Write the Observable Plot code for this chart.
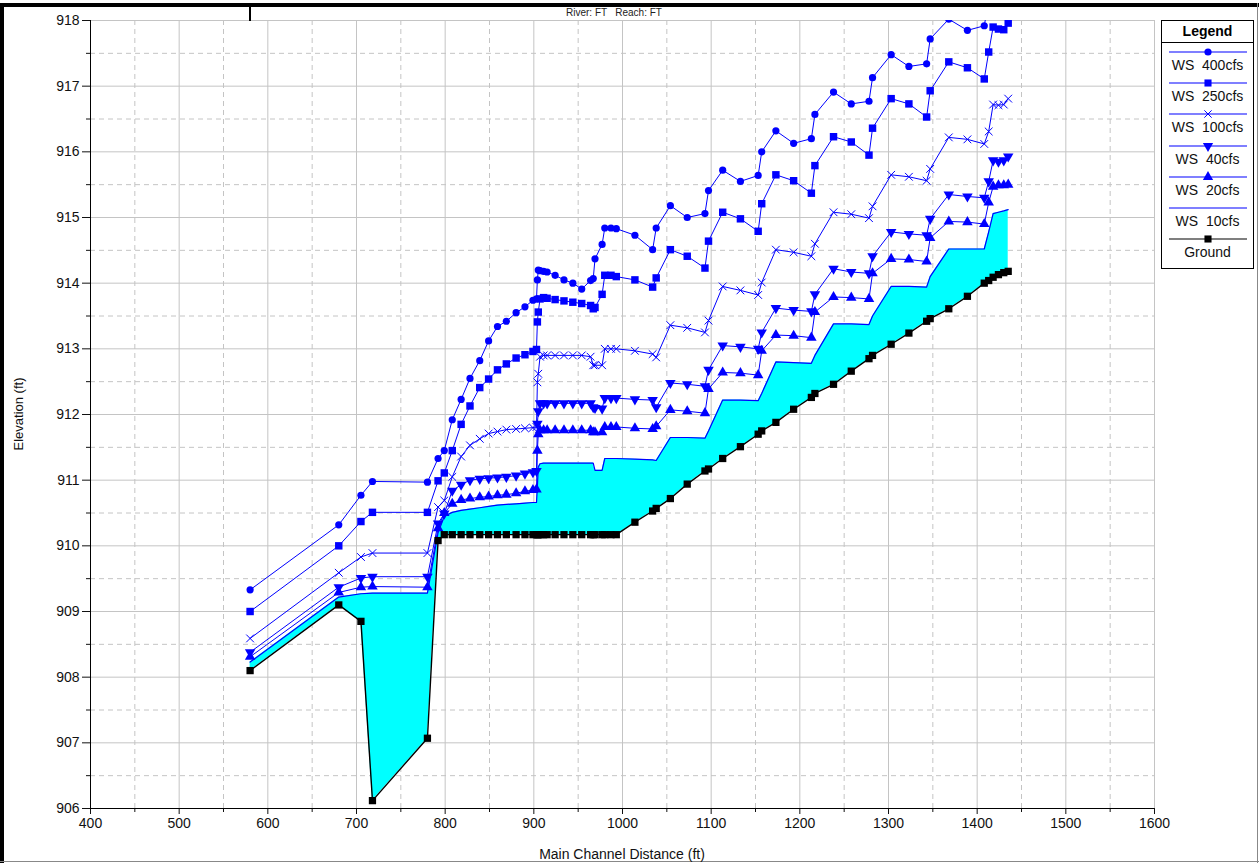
<!DOCTYPE html>
<html>
<head>
<meta charset="utf-8">
<script src="https://cdn.jsdelivr.net/npm/d3@7"></script>
<script src="https://cdn.jsdelivr.net/npm/@observablehq/plot@0.6"></script>
<style>
  html, body { margin: 0; padding: 0; background: #fff; }
  body { font-family: Arial, "Liberation Sans", sans-serif; }
  #wrap { position: relative; width: 1259px; height: 863px; overflow: hidden; background: #fff; }
  #chart { position: absolute; left: 0; top: 0; }
  .abs { position: absolute; }
  #title { left: 566px; top: 7px; font-size: 10px; line-height: 12px; color: #222; white-space: pre; }
  #topbar { left: 0; top: 3px; width: 1259px; height: 4px; background: #000; }
  #leftbar { left: 0; top: 3px; width: 4px; height: 860px; background: #000; }
  #rightbar { left: 1257px; top: 3px; width: 1px; height: 860px; background: #888; }
  #bottombar { left: 0; top: 861px; width: 1259px; height: 1px; background: #888; }
  #tick580 { left: 249px; top: 7px; width: 1.5px; height: 14px; background: #000; }
  #xlabel { left: 90px; width: 1064px; top: 846px; text-align: center; font-size: 14px; color: #111; }
  #ylabel { left: 18px; top: 414px; font-size: 13px; color: #111; transform: translate(-50%, -50%) rotate(-90deg); white-space: nowrap; }
  #legend { left: 1161px; top: 20px; width: 91px; height: 247px; border: 1.5px solid #000; background: #fff; }
  #legend .hdr { position: absolute; left: 0; top: 0; width: 91px; height: 21px; border-bottom: 1px solid #000; text-align: center; font-weight: bold; font-size: 14px; line-height: 21px; }
  #legend .lt { position: absolute; left: 0; width: 91px; text-align: center; font-size: 14px; white-space: pre; line-height: 16px; color: #111; }
  #legend svg { position: absolute; left: 7px; }
</style>
</head>
<body>
<div id="wrap">
  <div id="chart"></div>
  <div id="topbar" class="abs"></div>
  <div id="title" class="abs">River: FT   Reach: FT</div>
  <div id="leftbar" class="abs"></div>
  <div id="rightbar" class="abs"></div>
  <div id="bottombar" class="abs"></div>
  <div id="tick580" class="abs"></div>
  <div id="xlabel" class="abs">Main Channel Distance (ft)</div>
  <div id="ylabel" class="abs">Elevation (ft)</div>
  <div id="legend" class="abs"><div class="hdr">Legend</div></div>
</div>
<script>
// ---- Data ----
const stations = [
  580, 680, 705, 718, 780,
  792, 799, 808, 818, 828, 839, 849, 859, 869, 880,
  890, 899, 903, 904, 905, 907, 911, 915, 924, 934,
  944, 954, 964, 967, 969, 977, 980, 987, 993, 1014,
  1034, 1038, 1054, 1073, 1093, 1097, 1113, 1133, 1153, 1157,
  1173, 1193, 1213, 1217, 1238, 1258, 1278, 1282, 1303, 1323,
  1343, 1347, 1368, 1389, 1408, 1413, 1418, 1424, 1430, 1435
];
const ground = [
  908.10, 909.10, 908.85, 906.12, 907.07,
  910.08, 910.17, 910.17, 910.17, 910.17, 910.17, 910.17, 910.17, 910.17, 910.17,
  910.17, 910.17, 910.17, 910.17, 910.17, 910.17, 910.17, 910.17, 910.17, 910.17,
  910.17, 910.17, 910.17, 910.17, 910.17, 910.17, 910.17, 910.17, 910.17, 910.36,
  910.53, 910.57, 910.72, 910.94, 911.14, 911.17, 911.33, 911.51, 911.70, 911.75,
  911.88, 912.08, 912.26, 912.32, 912.46, 912.66, 912.85, 912.90, 913.07, 913.24,
  913.42, 913.46, 913.61, 913.80, 914.00, 914.04, 914.09, 914.13, 914.16, 914.18
];
const ws10 = [
  908.23, 909.22, 909.27, 909.28, 909.28,
  910.20, 910.45, 910.51, 910.54, 910.56, 910.58, 910.60, 910.62, 910.63, 910.64,
  910.65, 910.66, 910.66, 910.90, 911.20, 911.25, 911.26, 911.26, 911.26, 911.26,
  911.26, 911.26, 911.26, 911.26, 911.15, 911.15, 911.33, 911.33, 911.33, 911.32,
  911.31, 911.30, 911.65, 911.65, 911.64, 911.75, 912.22, 912.22, 912.21, 912.32,
  912.80, 912.79, 912.78, 912.90, 913.38, 913.38, 913.37, 913.50, 913.95, 913.95,
  913.94, 914.10, 914.52, 914.52, 914.52, 914.78, 915.06, 915.08, 915.10, 915.12
];
const ws20 = [
  908.31, 909.29, 909.37, 909.38, 909.37,
  910.27, 910.50, 910.64, 910.70, 910.72, 910.74, 910.75, 910.77, 910.78, 910.80,
  910.83, 910.85, 910.86, 911.45, 911.70, 911.76, 911.76, 911.76, 911.76, 911.76,
  911.76, 911.76, 911.76, 911.73, 911.73, 911.73, 911.81, 911.81, 911.81, 911.79,
  911.78, 911.82, 912.07, 912.05, 912.02, 912.39, 912.64, 912.63, 912.60, 912.97,
  913.21, 913.20, 913.17, 913.56, 913.79, 913.78, 913.76, 914.15, 914.37, 914.36,
  914.33, 914.69, 914.94, 914.93, 914.90, 915.23, 915.47, 915.49, 915.49, 915.50
];
const ws40 = [
  908.38, 909.37, 909.51, 909.53, 909.53,
  910.34, 910.49, 910.84, 910.93, 911.00, 911.02, 911.03, 911.04, 911.05, 911.07,
  911.10, 911.12, 911.14, 911.86, 912.05, 912.17, 912.17, 912.17, 912.17, 912.17,
  912.17, 912.17, 912.17, 912.11, 912.10, 912.09, 912.25, 912.25, 912.25, 912.23,
  912.22, 912.11, 912.48, 912.46, 912.43, 912.68, 913.05, 913.03, 913.00, 913.25,
  913.62, 913.59, 913.57, 913.83, 914.22, 914.17, 914.15, 914.41, 914.78, 914.75,
  914.73, 914.98, 915.35, 915.32, 915.30, 915.55, 915.87, 915.85, 915.87, 915.93
];
const ws100 = [
  908.59, 909.59, 909.83, 909.89, 909.89,
  910.59, 910.69, 911.05, 911.36, 911.53, 911.63, 911.71, 911.74, 911.77, 911.78,
  911.79, 911.80, 911.81, 912.49, 912.62, 912.88, 912.90, 912.90, 912.90, 912.90,
  912.90, 912.90, 912.88, 912.75, 912.75, 912.75, 913.00, 913.00, 913.00, 912.97,
  912.92, 912.87, 913.36, 913.32, 913.25, 913.43, 913.95, 913.89, 913.82, 914.01,
  914.51, 914.47, 914.41, 914.60, 915.08, 915.05, 914.99, 915.17, 915.65, 915.62,
  915.56, 915.74, 916.22, 916.19, 916.12, 916.31, 916.72, 916.71, 916.72, 916.81
];
const ws250 = [
  909.00, 910.00, 910.37, 910.51, 910.51,
  910.99, 911.11, 911.45, 911.85, 912.13, 912.41, 912.54, 912.68, 912.77, 912.86,
  912.91, 912.96, 912.99, 913.41, 913.56, 913.76, 913.78, 913.77, 913.75, 913.73,
  913.71, 913.69, 913.66, 913.61, 913.63, 913.83, 914.12, 914.12, 914.10, 914.05,
  913.94, 914.08, 914.51, 914.41, 914.23, 914.64, 915.08, 914.98, 914.79, 915.21,
  915.65, 915.56, 915.37, 915.79, 916.23, 916.15, 915.95, 916.36, 916.81, 916.73,
  916.53, 916.93, 917.37, 917.28, 917.11, 917.52, 917.90, 917.87, 917.86, 917.96
];
const ws400 = [
  909.33, 910.32, 910.77, 910.98, 910.97,
  911.33, 911.45, 911.92, 912.23, 912.55, 912.82, 913.12, 913.34, 913.42, 913.55,
  913.64, 913.74, 913.76, 914.05, 914.20, 914.19, 914.18, 914.17, 914.12, 914.05,
  914.00, 913.91, 914.04, 914.07, 914.37, 914.59, 914.84, 914.84, 914.83, 914.73,
  914.51, 914.84, 915.18, 915.00, 915.06, 915.41, 915.72, 915.55, 915.64, 916.00,
  916.32, 916.13, 916.20, 916.57, 916.91, 916.73, 916.77, 917.13, 917.48, 917.30,
  917.34, 917.72, 918.02, 917.85, 917.92, 918.30, 918.60, 918.60, 918.60, 918.70
];
const xTicks = [400, 500, 600, 700, 800, 900, 1000, 1100, 1200, 1300, 1400, 1500, 1600];
const xMinor = [450, 550, 650, 750, 850, 950, 1050, 1150, 1250, 1350, 1450, 1550];
const yTicks = [906, 907, 908, 909, 910, 911, 912, 913, 914, 915, 916, 917, 918];
const yMinor = [906.5, 907.5, 908.5, 909.5, 910.5, 911.5, 912.5, 913.5, 914.5, 915.5, 916.5, 917.5];
const legendLabels = ["WS  400cfs", "WS  250cfs", "WS  100cfs", "WS  40cfs", "WS  20cfs", "WS  10cfs", "Ground"];

// ---- Styling ----
const BLUE = "#0000ff";
const CYAN = "#00ffff";
const GRID = "#c4c4c4";
const triDown = {
  draw(ctx, size) {
    const s3 = Math.sqrt(3);
    const y = -Math.sqrt(size / (s3 * 3));
    ctx.moveTo(0, -y * 2);
    ctx.lineTo(-s3 * y, y);
    ctx.lineTo(s3 * y, y);
    ctx.closePath();
  }
};

const rows = stations.map((x, i) => ({
  x, g: ground[i], w10: ws10[i], w20: ws20[i], w40: ws40[i], w100: ws100[i], w250: ws250[i], w400: ws400[i]
}));

const series = [
  {key: "w400", symbol: "circle", r: 3.6, fill: BLUE},
  {key: "w250", symbol: "square", r: 4.2, fill: BLUE},
  {key: "w100", symbol: "times", r: 3.6, fill: "none", stroke: BLUE},
  {key: "w40", symbol: triDown, r: 3.9, fill: BLUE},
  {key: "w20", symbol: "triangle", r: 3.9, fill: BLUE}
];

const marks = [
  Plot.ruleX(xMinor, {stroke: GRID, strokeDasharray: "5,4"}),
  Plot.ruleY(yMinor, {stroke: GRID, strokeDasharray: "5,4"}),
  Plot.ruleX(xTicks, {stroke: GRID}),
  Plot.ruleY(yTicks, {stroke: GRID}),
  Plot.areaY(rows, {x: "x", y1: "g", y2: "w10", fill: CYAN, clip: true}),
  Plot.line(rows, {x: "x", y: "w10", stroke: BLUE, strokeWidth: 1.2, clip: true})
];
for (const s of series) {
  marks.push(Plot.line(rows, {x: "x", y: s.key, stroke: BLUE, strokeWidth: 1, clip: true}));
  marks.push(Plot.dot(rows, {x: "x", y: s.key, symbol: s.symbol, r: s.r, fill: s.fill, stroke: s.stroke || "none", strokeWidth: 1, clip: true}));
}
marks.push(
  Plot.line(rows, {x: "x", y: "g", stroke: "#000", strokeWidth: 1.4, clip: true}),
  Plot.dot(rows, {x: "x", y: "g", symbol: "square", r: 4.1, fill: "#000", clip: true}),
  Plot.axisX({ticks: xMinor, tickSize: 4, tickFormat: () => "", label: null}),
  Plot.axisY({ticks: yMinor, tickSize: 4, tickFormat: () => "", label: null}),
  Plot.axisX({ticks: xTicks, tickSize: 6, tickPadding: 4, tickFormat: d => String(d), label: null, fontSize: 14}),
  Plot.axisY({ticks: yTicks, tickSize: 8, tickPadding: 3, tickFormat: d => String(d), label: null, fontSize: 14}),
  Plot.ruleX([400], {stroke: "#000"}),
  Plot.ruleY([906], {stroke: "#000"})
);

const chart = Plot.plot({
  width: 1259,
  height: 863,
  marginLeft: 90,
  marginRight: 105,
  marginTop: 20,
  marginBottom: 55,
  style: {fontFamily: "Arial, 'Liberation Sans', sans-serif", fontSize: "14px", color: "#111", background: "transparent"},
  x: {domain: [400, 1600]},
  y: {domain: [906, 918]},
  marks
});
document.getElementById("chart").appendChild(chart);

// ---- Legend ----
const legend = document.getElementById("legend");
const legendSymbols = [
  {sym: d3.symbolCircle, r: 3.6, fill: BLUE, stroke: BLUE},
  {sym: d3.symbolSquare, r: 4.0, fill: BLUE, stroke: BLUE},
  {sym: d3.symbolTimes, r: 3.4, fill: "none", stroke: BLUE},
  {sym: triDown, r: 3.8, fill: BLUE, stroke: BLUE},
  {sym: d3.symbolTriangle, r: 3.8, fill: BLUE, stroke: BLUE},
  {sym: null, stroke: BLUE},
  {sym: d3.symbolSquare, r: 4.0, fill: "#000", stroke: "#000"}
];
legendLabels.forEach((label, i) => {
  const lineY = 31 + i * 31.2;
  const ls = legendSymbols[i];
  const svg = d3.create("svg").attr("width", 78).attr("height", 12).style("top", (lineY - 6) + "px");
  svg.append("line").attr("x1", 0).attr("x2", 78).attr("y1", 6).attr("y2", 6).attr("stroke", ls.stroke).attr("stroke-width", 1.2);
  if (ls.sym) {
    svg.append("path")
      .attr("d", d3.symbol(ls.sym, Math.PI * ls.r * ls.r)())
      .attr("transform", "translate(39,6)")
      .attr("fill", ls.fill)
      .attr("stroke", ls.fill === "none" ? ls.stroke : "none")
      .attr("stroke-width", 1);
  }
  legend.appendChild(svg.node());
  const t = document.createElement("div");
  t.className = "lt";
  t.style.top = (lineY + 5) + "px";
  t.textContent = label;
  legend.appendChild(t);
});
</script>
</body>
</html>
